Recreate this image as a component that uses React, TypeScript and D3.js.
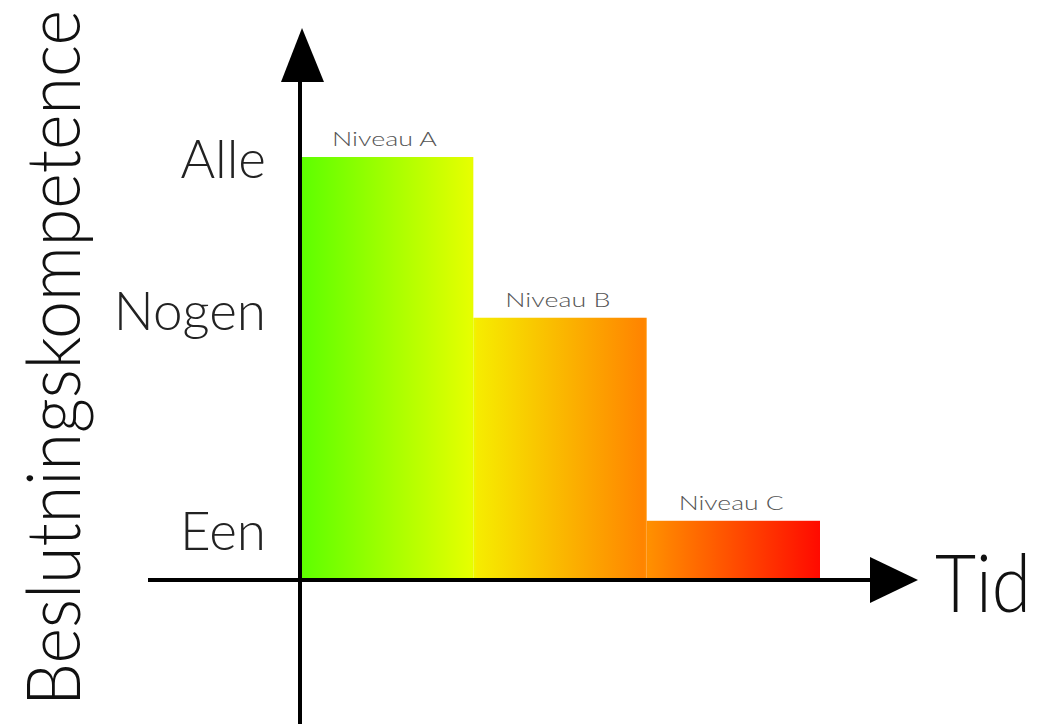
import * as d3 from "d3";

const levels = ["Niveau A", "Niveau B", "Niveau C"];
const competence = [100, 62, 14];
const tickLabels = ["Alle", "Nogen", "Een"];
const tickValues = [99.5, 63.6, 11.6];

const W = 1040;
const H = 724;
const font = "Lato, 'DejaVu Sans', sans-serif";

export default function App() {
  const x0 = 300;
  const y0 = 580;
  const xScale = d3.scaleBand().domain(levels).range([x0, 820]).padding(0);
  const yScale = d3.scaleLinear().domain([0, 100]).range([y0, 157]);

  const data = levels.map((l, i) => ({ level: l, value: competence[i] }));

  return (
    <svg
      width={W}
      height={H}
      viewBox={`0 0 ${W} ${H}`}
      style={{ position: "absolute", left: 0, top: 0, background: "#fff" }}
    >
      <defs>
        <linearGradient
          id="heat"
          gradientUnits="userSpaceOnUse"
          x1={x0}
          x2={820}
          y1={0}
          y2={0}
        >
          <stop offset="0" stopColor="#5cff00" />
          <stop offset="0.33" stopColor="#e6ff00" />
          <stop offset="0.34" stopColor="#f6ec00" />
          <stop offset="0.66" stopColor="#ff8400" />
          <stop offset="0.67" stopColor="#ff9000" />
          <stop offset="1" stopColor="#ff0a00" />
        </linearGradient>
      </defs>

      {/* bars */}
      {data.map((d) => (
        <rect
          key={d.level}
          x={xScale(d.level)}
          y={yScale(d.value)}
          width={xScale.bandwidth()}
          height={y0 - yScale(d.value)}
          fill="url(#heat)"
        />
      ))}

      {/* bar labels */}
      {data.map((d) => (
        <text
          key={`lbl-${d.level}`}
          x={(xScale(d.level) || 0) + 32}
          y={yScale(d.value) - 11}
          fontFamily={font}
          fontWeight={300}
          fontSize={19}
          textLength={105}
          lengthAdjust="spacingAndGlyphs"
          fill="#555"
        >
          {d.level}
        </text>
      ))}

      {/* axes */}
      <line x1={148} x2={875} y1={y0} y2={y0} stroke="#000" strokeWidth={4} />
      <path d={`M870,557 L918,580 L870,603 Z`} fill="#000" />
      <line x1={x0} x2={x0} y1={78} y2={H} stroke="#000" strokeWidth={4} />
      <path d={`M281,82 L302,28 L324,82 Z`} fill="#000" />

      {/* y tick labels */}
      {tickLabels.map((t, i) => (
        <text
          key={t}
          x={266}
          y={yScale(tickValues[i])}
          dy="0.36em"
          textAnchor="end"
          fontFamily={font}
          fontWeight={300}
          fontSize={53}
          fill="#222"
        >
          {t}
        </text>
      ))}

      {/* axis titles */}
      <text
        x={935}
        y={612}
        fontFamily={font}
        fontWeight={300}
        fontSize={80}
        textLength={96}
        lengthAdjust="spacingAndGlyphs"
        fill="#111"
      >
        Tid
      </text>
      <text
        transform="translate(80,706) rotate(-90)"
        fontFamily={font}
        fontWeight={300}
        fontSize={74}
        textLength={696}
        lengthAdjust="spacingAndGlyphs"
        fill="#111"
      >
        Beslutningskompetence
      </text>
    </svg>
  );
}
